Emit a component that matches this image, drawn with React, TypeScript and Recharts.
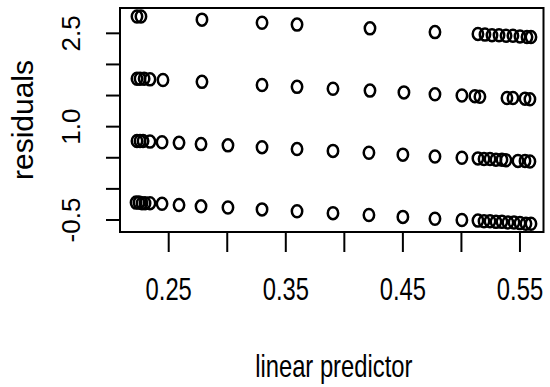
import React from 'react';
import { ScatterChart, Scatter, XAxis, YAxis, ReferenceArea, Label } from 'recharts';

// linear predictor / residual pairs, one pair of arrays per band
const lpA = [0.2229, 0.2263, 0.2784, 0.3297, 0.3596, 0.4219, 0.4774, 0.5141, 0.5201, 0.5261, 0.5321, 0.5381, 0.544, 0.55, 0.556, 0.5594];
const resA = [2.77, 2.77, 2.72, 2.67, 2.64, 2.58, 2.52, 2.49, 2.48, 2.47, 2.47, 2.46, 2.46, 2.45, 2.44, 2.44];

const lpB = [0.2229, 0.2255, 0.229, 0.234, 0.2451, 0.2784, 0.3297, 0.3596, 0.3903, 0.4219, 0.4509, 0.4774, 0.5004, 0.5115, 0.5158, 0.5389, 0.544, 0.5543, 0.5585];
const resB = [1.77, 1.77, 1.77, 1.76, 1.75, 1.72, 1.67, 1.64, 1.61, 1.58, 1.55, 1.52, 1.5, 1.49, 1.48, 1.46, 1.46, 1.45, 1.44];

const lpC = [0.2229, 0.2255, 0.2281, 0.234, 0.2443, 0.2588, 0.2776, 0.3006, 0.3297, 0.3596, 0.3903, 0.421, 0.45, 0.4774, 0.5004, 0.5141, 0.5193, 0.5244, 0.5295, 0.5346, 0.538, 0.5483, 0.5543, 0.5585];
const resC = [0.77, 0.77, 0.77, 0.76, 0.75, 0.74, 0.72, 0.7, 0.67, 0.64, 0.61, 0.58, 0.55, 0.52, 0.5, 0.49, 0.48, 0.48, 0.47, 0.47, 0.46, 0.45, 0.45, 0.44];

const lpD = [0.2221, 0.2246, 0.2272, 0.2298, 0.234, 0.2443, 0.2588, 0.2776, 0.3006, 0.3297, 0.3596, 0.3903, 0.421, 0.45, 0.4774, 0.5004, 0.5141, 0.5193, 0.5244, 0.5295, 0.5346, 0.5397, 0.5449, 0.55, 0.5551, 0.5594];
const resD = [-0.22, -0.22, -0.23, -0.23, -0.23, -0.24, -0.26, -0.28, -0.3, -0.33, -0.36, -0.39, -0.42, -0.45, -0.48, -0.5, -0.51, -0.52, -0.52, -0.53, -0.53, -0.54, -0.54, -0.55, -0.56, -0.56];

const xTicks = [0.25, 0.3, 0.35, 0.4, 0.45, 0.5, 0.55];
const xLabeled = [0.25, 0.35, 0.45, 0.55];
const yTicks = [-0.5, 0, 0.5, 1, 1.5, 2, 2.5];
const yLabeled = [-0.5, 1, 2.5];

const xDomain = [0.2084, 0.5701];
const yDomain = [-0.693, 2.907];

const points = [...lpA.map((lp, i) => ({ lp, res: resA[i] })),
  ...lpB.map((lp, i) => ({ lp, res: resB[i] })),
  ...lpC.map((lp, i) => ({ lp, res: resC[i] })),
  ...lpD.map((lp, i) => ({ lp, res: resD[i] }))];

const FONT = '"Liberation Sans", Arial, sans-serif';
const has = (list: number[], v: number) => list.some((t) => Math.abs(t - v) < 1e-6);

// horizontal text in the reference is squeezed sideways
const Squeezed = ({ x, y, size, children }: any) => (
  <g transform={`translate(${x} ${y}) scale(0.82 1.08)`}>
    <text x={0} y={0} textAnchor="middle" fontFamily={FONT} fontSize={size} fill="#000">{children}</text>
  </g>
);

const XTick = (props: any) => {
  const { x, y, payload } = props;
  if (!has(xLabeled, payload.value)) return <g />;
  return <Squeezed x={x} y={y + 46} size={29}>{payload.value.toFixed(2)}</Squeezed>;
};

const YTick = (props: any) => {
  const { x, y, payload } = props;
  if (!has(yLabeled, payload.value)) return <g />;
  const tx = x - 24;
  return (
    <text x={tx} y={y} transform={`rotate(-90 ${tx} ${y})`} textAnchor="middle" fontFamily={FONT} fontSize={26} fill="#000">
      {payload.value.toFixed(1)}
    </text>
  );
};

const Ring = (props: any) => (
  <ellipse cx={props.cx} cy={props.cy} rx={5.2} ry={6} fill="none" stroke="#000" strokeWidth={2.5} />
);

export default function App() {
  return (
    <div style={{ width: 550, height: 387, background: '#fff' }}>
      <style>{'body{margin:0}'}</style>
      <ScatterChart width={550} height={387} margin={{ top: 8, right: 6.5, bottom: 0, left: 0 }}>
        <XAxis
          type="number"
          dataKey="lp"
          domain={xDomain}
          allowDataOverflow
          ticks={xTicks}
          interval={0}
          height={155}
          axisLine={false}
          tickSize={20}
          tickLine={{ stroke: '#000', strokeWidth: 2 }}
          tick={<XTick />}
        >
          <Label
            content={(p: any) => {
              const vb = p.viewBox;
              return <Squeezed x={vb.x + vb.width / 2 + 2} y={vb.y + vb.height - 10} size={29}>linear predictor</Squeezed>;
            }}
          />
        </XAxis>
        <YAxis
          type="number"
          dataKey="res"
          domain={yDomain}
          allowDataOverflow
          ticks={yTicks}
          interval={0}
          width={120}
          axisLine={false}
          tickSize={14}
          tickLine={{ stroke: '#000', strokeWidth: 2 }}
          tick={<YTick />}
        >
          <Label
            content={(p: any) => {
              const vb = p.viewBox;
              const cx = vb.x + 33;
              const cy = vb.y + vb.height / 2;
              return (
                <text x={cx} y={cy} transform={`rotate(-90 ${cx} ${cy})`} textAnchor="middle" fontFamily={FONT} fontSize={30} fill="#000">
                  residuals
                </text>
              );
            }}
          />
        </YAxis>
        <Scatter data={points} shape={<Ring />} isAnimationActive={false} />
        <ReferenceArea x1={xDomain[0]} x2={xDomain[1]} y1={yDomain[0]} y2={yDomain[1]} fill="none" stroke="#000" strokeWidth={2} />
      </ScatterChart>
    </div>
  );
}
